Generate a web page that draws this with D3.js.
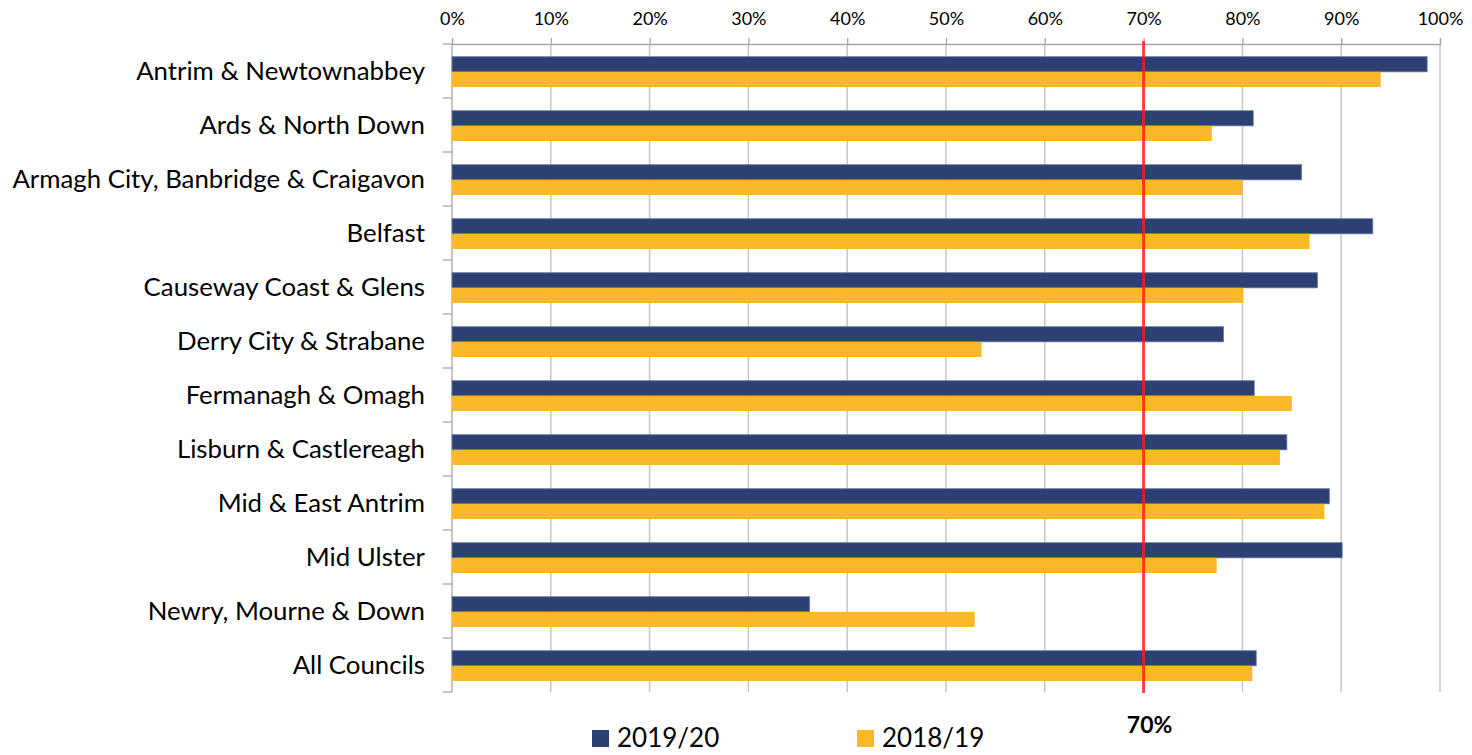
<!DOCTYPE html>
<html>
<head>
<meta charset="utf-8">
<script src="https://cdn.jsdelivr.net/npm/d3@7"></script>
<style>
  body { margin: 0; background: #fff; }
  text { font-family: Lato, "Open Sans", sans-serif; fill: #000; }
</style>
</head>
<body>
<div id="plot"></div>
<script>
// Data
const councils = [
    "Antrim & Newtownabbey",
    "Ards & North Down",
    "Armagh City, Banbridge & Craigavon",
    "Belfast",
    "Causeway Coast & Glens",
    "Derry City & Strabane",
    "Fermanagh & Omagh",
    "Lisburn & Castlereagh",
    "Mid & East Antrim",
    "Mid Ulster",
    "Newry, Mourne & Down",
    "All Councils"
];
const seriesNames = ["2019/20", "2018/19"];
const values1920 = [98.7, 81.1, 86.0, 93.2, 87.6, 78.1, 81.2, 84.5, 88.8, 90.1, 36.2, 81.4];
const values1819 = [94.0, 76.9, 80.0, 86.8, 80.1, 53.6, 85.0, 83.8, 88.3, 77.4, 52.9, 81.0];
const xTicks = [0, 10, 20, 30, 40, 50, 60, 70, 80, 90, 100];
const target = 70;

// Set up dimensions
const width = 1472, height = 755;
const plotLeft = 452, plotRight = 1440, plotTop = 44, plotBottom = 692;
const colors = { "2019/20": "#2c4172", "2018/19": "#f8b82a" };

const svg = d3.select("#plot")
    .append("svg")
    .attr("width", width)
    .attr("height", height);

const x = d3.scaleLinear().domain([0, 100]).range([plotLeft, plotRight]);
const y = d3.scaleBand().domain(councils).range([plotTop, plotBottom]);
const ySub = d3.scaleBand().domain(seriesNames).range([12.7, 43]);

// Vertical grid lines
svg.append("g")
    .selectAll("line")
    .data(xTicks.filter(d => d > 0))
    .enter()
    .append("line")
    .attr("x1", d => x(d)).attr("x2", d => x(d))
    .attr("y1", plotTop).attr("y2", plotBottom)
    .attr("stroke", "#c8c8c8")
    .attr("stroke-width", 1.6);

// Top axis with percent labels
const xAxis = svg.append("g")
    .attr("transform", `translate(0,${plotTop})`)
    .call(d3.axisTop(x).tickValues(xTicks).tickSize(6).tickPadding(13).tickFormat(d => d + "%"));
xAxis.select(".domain").attr("stroke", "#a6a6a6").attr("stroke-width", 1.3);
xAxis.selectAll(".tick line").attr("stroke", "#a6a6a6").attr("stroke-width", 1.3);
xAxis.selectAll(".tick text")
    .style("font-family", "Lato, sans-serif")
    .style("font-size", "18px")
    .attr("fill", "#000");

// Left axis: line plus ticks on band edges
const bounds = councils.map(c => y(c)).concat([plotBottom]);
svg.append("line")
    .attr("x1", plotLeft).attr("x2", plotLeft)
    .attr("y1", plotTop).attr("y2", plotBottom)
    .attr("stroke", "#a6a6a6").attr("stroke-width", 1.3);
svg.append("g")
    .selectAll("line")
    .data(bounds)
    .enter()
    .append("line")
    .attr("x1", plotLeft - 9).attr("x2", plotLeft)
    .attr("y1", d => d).attr("y2", d => d)
    .attr("stroke", "#a6a6a6").attr("stroke-width", 1.3);

// Category labels
svg.append("g")
    .selectAll("text")
    .data(councils)
    .enter()
    .append("text")
    .attr("x", 425)
    .attr("y", d => y(d) + y.bandwidth() / 2 + 8.5)
    .attr("text-anchor", "end")
    .style("font-size", "25.8px")
    .text(d => d);

// Bars
const rows = councils.map((c, i) => ({ name: c, vals: [values1920[i], values1819[i]] }));
const group = svg.append("g")
    .selectAll("g")
    .data(rows)
    .enter()
    .append("g")
    .attr("transform", d => `translate(0,${y(d.name)})`);

group.selectAll("rect")
    .data(d => d.vals.map((v, j) => ({ key: seriesNames[j], value: v })))
    .enter()
    .append("rect")
    .attr("x", x(0))
    .attr("y", d => ySub(d.key))
    .attr("width", d => x(d.value) - x(0))
    .attr("height", ySub.bandwidth())
    .attr("fill", d => colors[d.key])
    .attr("stroke", d => d.key === "2019/20" ? "#6b7fa6" : "none")
    .attr("stroke-width", 0.8);

// 70% target line
svg.append("line")
    .attr("x1", x(target)).attr("x2", x(target))
    .attr("y1", plotTop - 3).attr("y2", plotBottom + 1)
    .attr("stroke", "#ff1a1a")
    .attr("stroke-opacity", 0.8)
    .attr("stroke-width", 3);

svg.append("text")
    .attr("x", x(target) + 6)
    .attr("y", 733)
    .attr("text-anchor", "middle")
    .style("font-size", "23px")
    .style("font-weight", "bold")
    .text(target + "%");

// Legend
const legendX = [592, 857];
const legend = svg.append("g")
    .selectAll("g")
    .data(seriesNames)
    .enter()
    .append("g")
    .attr("transform", (d, i) => `translate(${legendX[i]},730)`);

legend.append("rect")
    .attr("width", 17).attr("height", 17)
    .attr("fill", d => colors[d]);

legend.append("text")
    .attr("x", 25)
    .attr("y", 17)
    .style("font-size", "26px")
    .text(d => d);
</script>
</body>
</html>
